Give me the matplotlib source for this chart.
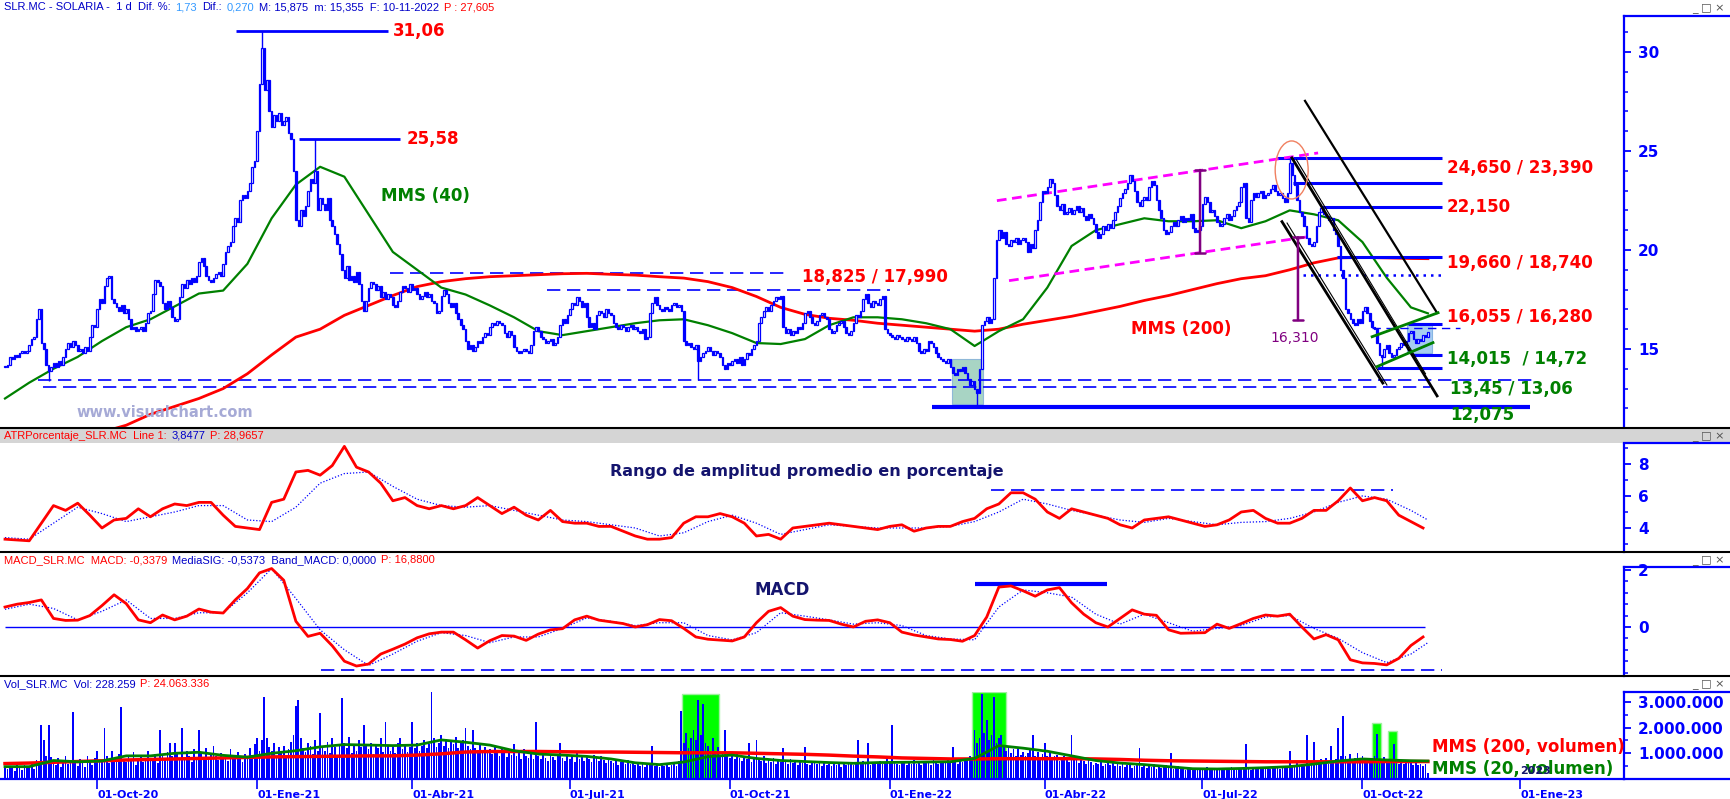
import numpy as np
import pandas as pd
import matplotlib
matplotlib.use("Agg")
import matplotlib.pyplot as plt
from matplotlib.patches import Rectangle, Ellipse
from matplotlib.lines import Line2D
from matplotlib.ticker import MultipleLocator

plt.rcParams['font.family'] = ['DejaVu Sans']

# ---------------------------------------------------------------- data
start_date = "2020-08-10"

closes = [
    14.1,14.2,14.6,14.5,14.7,14.6,14.8,14.9,14.8,14.9,
    15.2,15.5,15.6,16.5,17.0,15.3,15.0,14.2,13.9,14.1,
    14.3,14.1,14.4,14.2,14.6,15.0,15.3,15.1,15.4,15.2,
    14.9,15.0,14.8,15.1,14.9,15.6,16.2,16.1,17.0,17.5,
    17.3,18.2,18.6,18.7,17.5,17.3,17.1,16.9,17.2,16.8,
    17.0,16.5,16.0,16.1,15.9,16.0,16.1,15.9,16.3,16.8,
    16.9,17.8,18.5,18.4,18.2,17.3,17.0,17.4,17.1,16.6,
    16.4,16.5,17.6,18.3,18.1,18.5,18.3,18.6,18.4,18.7,
    19.4,19.6,19.2,18.7,18.5,18.4,18.6,18.8,18.9,18.7,
    19.3,19.9,20.2,20.4,21.2,21.6,21.4,22.5,22.8,22.6,
    23.0,23.4,24.2,24.5,26.0,28.4,30.2,28.1,28.6,27.0,
    26.2,26.8,26.5,26.9,26.3,26.5,26.7,25.9,25.6,24.0,
    21.5,21.2,22.0,21.7,22.2,23.0,23.6,23.4,24.0,22.0,
    22.6,22.3,22.0,22.6,21.5,21.2,20.8,20.3,19.8,19.0,
    18.6,19.2,18.5,18.7,18.4,18.9,18.3,17.4,16.9,17.4,
    18.1,18.4,18.3,18.0,18.2,17.6,17.9,17.5,17.8,17.6,
    17.2,17.1,17.4,17.9,18.2,18.1,17.9,18.3,18.0,18.1,
    17.8,17.5,17.7,17.9,17.6,17.8,17.4,17.3,16.8,16.9,
    17.7,18.0,17.8,17.3,17.1,17.3,16.8,16.5,16.2,16.0,
    15.4,15.0,15.2,14.9,15.1,15.4,15.3,15.6,15.8,15.7,
    16.1,16.3,16.2,16.4,16.3,16.2,15.8,15.6,15.9,15.7,
    15.1,14.9,14.8,14.9,15.0,14.9,14.8,15.2,15.9,16.1,
    15.9,15.6,15.5,15.3,15.4,15.5,15.2,15.3,15.6,16.2,
    16.5,16.3,16.7,17.0,17.3,17.2,17.6,17.4,17.1,17.3,
    16.6,16.1,16.3,16.0,16.7,16.9,16.8,16.6,17.0,16.8,
    16.7,16.3,16.1,16.0,16.2,16.1,15.9,16.1,16.2,16.0,
    16.1,15.9,15.8,16.0,15.5,15.6,16.8,17.3,17.6,17.2,
    17.0,16.9,17.1,17.0,16.9,17.2,17.3,17.1,17.2,16.9,
    15.4,15.2,15.3,15.1,15.0,15.2,14.4,14.6,14.8,14.9,
    15.1,14.9,14.7,14.9,14.8,14.6,14.2,14.0,14.3,14.2,
    14.4,14.5,14.3,14.6,14.2,14.5,14.8,14.7,15.0,15.2,
    15.4,16.3,16.6,16.9,17.1,16.9,17.2,17.4,17.6,17.5,
    17.7,16.1,15.8,16.0,15.7,15.9,15.8,16.1,16.0,16.3,
    16.8,16.9,16.6,16.3,16.2,16.4,16.7,16.8,16.6,16.5,
    16.0,15.8,15.9,16.2,16.3,16.4,16.1,15.8,15.7,15.9,
    16.3,16.7,16.6,16.9,17.5,17.8,17.3,17.1,17.4,17.3,
    17.2,17.5,17.7,16.0,15.8,15.7,15.6,15.5,15.7,15.6,
    15.5,15.4,15.6,15.5,15.4,15.6,15.3,14.9,14.8,15.0,
    14.9,15.4,15.3,15.1,14.8,14.6,14.5,14.4,14.3,14.5,
    14.1,13.8,13.7,14.0,13.9,14.1,13.8,13.5,13.2,13.4,
    13.0,12.8,14.0,16.2,16.4,16.6,16.3,16.5,18.6,20.5,
    21.0,20.6,20.9,20.3,20.2,20.5,20.4,20.6,20.3,20.5,
    20.6,20.4,19.9,20.3,20.1,21.0,21.5,22.4,23.0,22.9,
    23.2,23.6,23.4,22.8,22.2,22.0,22.3,21.8,21.9,22.1,
    21.8,22.0,22.2,21.9,22.1,21.7,21.5,21.8,21.6,21.3,
    20.9,20.6,20.8,21.2,21.0,21.3,21.1,21.5,21.9,22.2,
    22.6,22.9,23.1,23.4,23.8,23.5,23.0,22.4,22.2,22.5,
    22.7,22.5,23.2,23.5,23.3,22.5,22.0,21.6,21.0,20.8,
    20.9,21.2,21.4,21.2,21.5,21.7,21.4,21.6,21.5,21.8,
    21.1,20.9,21.0,21.2,22.3,22.7,22.4,21.9,22.0,21.7,
    21.4,21.2,21.3,21.6,21.8,21.5,21.7,22.0,22.2,22.4,
    23.2,23.4,21.6,21.4,22.5,22.9,22.7,22.9,23.0,22.6,
    22.8,22.9,23.1,23.3,23.0,22.8,22.9,22.6,22.4,22.9,
    24.4,23.8,23.3,22.5,21.9,21.7,21.2,20.6,20.3,20.2,
    20.4,21.2,21.9,22.1,21.8,21.7,21.5,21.6,21.0,20.8,
    20.2,19.0,18.6,17.0,16.8,16.5,16.3,16.2,16.5,16.3,
    16.9,17.1,16.8,16.4,16.1,16.0,15.3,14.7,14.6,15.0,
    15.2,14.8,14.6,14.7,15.0,15.1,15.3,15.2,15.4,15.8,
    15.9,15.5,15.3,15.5,15.4,15.7,15.6,15.87,
]

# daily volume, thousands of shares
volume_k = [
    420,380,510,450,300,620,480,350,560,410,
    470,600,380,720,650,2100,1500,900,2100,850,
    700,560,820,480,650,900,580,740,2600,620,
    520,760,640,480,900,700,560,820,1100,680,
    750,2000,900,640,1100,820,700,960,2800,780,
    650,900,720,1050,560,800,940,680,760,1100,
    820,700,960,640,1900,880,760,1050,1400,900,
    1400,980,820,2000,760,1100,900,680,1150,860,
    1900,1000,840,1200,760,950,1300,880,720,1000,
    820,940,700,1150,860,760,1050,900,680,980,
    880,1200,950,1350,1600,1100,1500,3200,1600,1250,
    1100,1400,900,1250,1000,1300,850,1150,1450,1700,
    2850,3070,1600,1200,1050,1400,1300,980,1500,1100,
    2550,1300,1100,1450,1000,1600,1250,900,1350,3150,
    1400,1200,1650,1000,1350,1100,1500,1250,2100,1300,
    1150,1400,980,1300,1200,1600,1050,2200,1300,1100,
    1250,1000,1400,1600,1150,1300,1050,1250,2200,1200,
    1400,1100,1300,1500,1200,1350,3400,1600,1250,1400,
    1700,1300,1550,1200,1450,1350,1650,1200,1400,1500,
    2000,1300,1150,1900,1200,1050,1350,1100,1250,1000,
    1150,980,1300,1050,900,1200,1000,850,1100,950,
    1350,880,1000,760,1150,900,820,1050,780,2200,
    900,760,1050,820,700,950,860,740,900,1400,
    820,700,960,780,880,650,1000,760,840,700,
    900,760,680,950,820,700,880,740,640,800,
    700,620,780,560,680,740,600,720,580,640,
    560,680,520,620,480,600,540,1300,520,600,
    480,560,500,620,460,540,600,500,700,2650,
    1400,1800,1200,1600,1900,1500,3070,1700,2900,1400,
    1300,1000,1600,1100,1250,900,1050,1900,950,800,
    900,760,1000,820,700,880,760,1400,680,780,
    1500,820,700,900,640,760,680,820,600,720,
    660,1200,700,580,760,640,700,560,680,620,
    1250,600,540,700,620,580,660,520,640,560,
    600,520,680,560,620,480,640,540,580,620,
    560,640,1500,580,700,620,1400,560,680,600,
    640,700,580,660,760,620,2100,680,600,560,
    620,700,560,640,580,720,600,660,540,700,
    620,680,560,760,640,580,700,620,680,740,
    640,1250,700,600,760,680,820,720,900,780,
    1900,1400,1600,3300,1800,2300,1500,1700,3200,1400,
    1600,1700,1300,1100,1250,1000,1150,900,1200,950,
    1050,880,1000,1200,1700,900,1050,820,980,1400,
    900,1000,760,880,940,700,820,900,760,680,
    1700,720,800,640,760,700,600,740,680,560,
    640,580,700,520,600,660,540,620,500,580,
    520,600,480,560,620,440,500,580,1200,460,
    540,420,500,460,580,400,520,440,480,560,
    420,1000,380,460,520,400,440,360,480,420,
    380,440,360,420,400,340,460,380,420,360,
    400,360,440,380,420,340,460,400,360,420,
    380,440,1350,400,360,480,420,380,440,400,
    460,420,380,480,440,520,400,460,500,440,
    1100,560,480,620,540,500,600,1700,520,640,
    1450,700,580,760,640,820,600,1300,700,760,
    2000,900,2450,880,760,960,700,820,1000,740,
    880,760,640,820,700,900,1750,760,680,840,
    720,640,760,1350,680,600,720,580,640,700,
    620,560,680,540,600,520,580,228,
]

# moving averages sampled every 10 sessions (+ last session)
ma40 = [12.5,13.3,14.0,14.6,15.4,16.1,16.5,17.15,17.8,17.95,
        19.3,21.6,23.3,24.2,23.7,21.8,19.9,19.0,18.1,17.75,
        17.2,16.6,15.9,15.7,15.9,16.1,16.3,16.45,16.5,16.2,
        15.8,15.3,15.25,15.5,16.2,16.6,16.6,16.5,16.3,16.0,
        15.15,15.9,16.5,18.1,20.2,21.0,21.3,21.6,21.45,21.45,
        21.5,21.1,21.45,22.0,21.8,21.5,20.4,18.6,17.1,16.8]
ma200 = [np.nan,np.nan,np.nan,np.nan,10.8,11.15,11.7,12.1,12.5,13.0,
         13.75,14.7,15.6,16.0,16.7,17.2,17.7,18.15,18.4,18.55,
         18.65,18.7,18.75,18.8,18.82,18.77,18.73,18.65,18.58,18.4,
         18.1,17.65,17.1,16.75,16.55,16.45,16.3,16.2,16.1,16.0,
         15.9,16.0,16.25,16.45,16.65,16.9,17.15,17.45,17.7,18.0,
         18.3,18.55,18.7,19.0,19.35,19.6,19.62,19.6,19.57,19.56]

# ATR % and MACD sampled every 5 sessions
atr_pct = [3.3,3.25,3.2,4.3,5.4,5.1,5.55,4.8,4.0,4.5,
           4.6,5.2,4.7,5.2,5.5,5.4,5.6,5.6,4.8,4.1,
           4.0,3.9,5.6,5.8,7.5,7.6,7.3,7.9,9.1,7.8,
           7.5,6.8,5.7,5.9,5.4,5.2,5.4,5.2,5.4,5.9,
           5.4,4.9,5.3,4.8,4.5,5.1,4.4,4.3,4.3,4.1,
           4.1,3.8,3.5,3.3,3.3,3.4,4.3,4.7,4.7,4.9,
           4.7,4.3,3.5,3.6,3.3,4.0,4.1,4.2,4.3,4.2,
           4.1,4.0,3.9,4.1,4.2,3.8,4.0,4.1,4.1,4.4,
           4.6,5.2,5.5,6.2,6.2,5.8,5.0,4.6,5.2,5.0,
           4.8,4.6,4.2,4.0,4.5,4.6,4.7,4.5,4.3,4.1,
           4.2,4.5,5.0,5.1,4.6,4.3,4.3,4.6,5.1,5.1,
           5.7,6.5,5.7,5.9,5.7,4.8,4.4,4.0]
macd = [0.70,0.80,0.86,0.95,0.30,0.23,0.24,0.40,0.75,1.13,
        0.82,0.25,0.15,0.42,0.25,0.38,0.63,0.52,0.49,0.95,
        1.35,1.90,2.05,1.64,0.20,-0.33,-0.22,-0.66,-1.20,-1.37,
        -1.30,-0.95,-0.78,-0.60,-0.38,-0.24,-0.18,-0.18,-0.45,-0.74,
        -0.48,-0.30,-0.32,-0.47,-0.25,-0.10,-0.06,0.25,0.38,0.24,
        0.18,0.12,0.00,0.08,0.26,0.22,-0.05,-0.35,-0.43,-0.46,
        -0.49,-0.35,0.15,0.55,0.68,0.38,0.26,0.24,0.23,0.10,
        0.00,0.20,0.25,0.15,-0.18,-0.28,-0.35,-0.42,-0.44,-0.50,
        -0.30,0.35,1.40,1.44,1.27,1.08,1.30,1.38,0.85,0.45,
        0.15,0.00,0.30,0.60,0.45,0.41,-0.10,-0.22,-0.21,-0.20,
        0.10,-0.05,0.12,0.30,0.42,0.38,0.45,0.00,-0.42,-0.27,
        -0.45,-1.15,-1.26,-1.28,-1.33,-1.10,-0.65,-0.35]

# signal lines sampled every 10 sessions (+ last session)
atr_signal = [3.4,3.3,4.3,5.3,4.9,4.4,4.7,5.0,5.4,5.4,
              4.5,4.4,5.3,6.8,7.4,7.5,6.6,5.8,5.4,5.3,
              5.4,5.1,4.8,4.5,4.4,4.2,4.0,3.5,3.7,4.4,
              4.8,4.3,3.6,3.9,4.2,4.1,4.0,4.0,4.0,4.1,
              4.4,5.0,5.8,5.5,5.1,4.8,4.5,4.35,4.6,4.4,
              4.2,4.35,4.4,4.6,5.0,5.6,6.0,5.8,5.1,4.5]
macd_signal = [0.62,0.80,0.65,0.25,0.55,0.95,0.30,0.30,0.50,0.50,
               1.20,2.05,1.00,-0.10,-0.80,-1.35,-0.95,-0.50,-0.20,-0.30,
               -0.55,-0.35,-0.35,-0.05,0.32,0.20,0.05,0.15,0.15,-0.30,
               -0.45,-0.20,0.50,0.38,0.25,0.10,0.15,0.05,-0.30,-0.42,
               -0.45,0.70,1.30,1.20,1.05,0.45,0.10,0.45,0.15,-0.15,
               -0.05,0.05,0.35,0.40,-0.05,-0.40,-0.90,-1.25,-0.95,-0.55]
vol_ma200_m = [0.60,0.62,0.65,0.68,0.71,0.74,0.76,0.78,0.80,0.82,
               0.84,0.86,0.87,0.88,0.89,0.90,0.90,0.93,0.98,1.05,
               1.07,1.07,1.07,1.06,1.05,1.05,1.04,1.03,1.02,1.02,
               1.02,1.00,0.98,0.96,0.93,0.89,0.86,0.82,0.80,0.78,
               0.78,0.79,0.79,0.79,0.79,0.78,0.76,0.73,0.71,0.70,
               0.69,0.68,0.67,0.67,0.67,0.67,0.67,0.68,0.68,0.68]
vol_ma20_m = [0.48,0.48,0.72,0.67,0.70,0.90,0.90,1.00,1.04,0.92,
              0.85,1.00,1.10,1.25,1.34,1.32,1.30,1.32,1.52,1.43,
              1.32,1.10,0.97,0.93,0.88,0.78,0.63,0.56,0.66,0.87,
              0.93,0.80,0.72,0.68,0.64,0.61,0.64,0.65,0.66,0.67,
              0.80,1.30,1.20,1.08,0.90,0.72,0.62,0.56,0.48,0.40,
              0.39,0.41,0.44,0.48,0.58,0.70,0.78,0.74,0.71,0.70]

# notable wick extremes (session index, price)
wick_high_bars = [106, 128, 530]
wick_high_vals = [31.06, 25.58, 24.65]
wick_low_bars = [18, 286, 401, 568]
wick_low_vals = [13.40, 13.45, 12.075, 14.015]

month_es = {1: "Ene", 4: "Abr", 7: "Jul", 10: "Oct"}

# ---------------------------------------------------------------- layout helpers
W, H = 1730, 799
fig = plt.figure(figsize=(W / 100, H / 100), dpi=100)
BLUE = "#0000ff"
RED = "#ff0000"
GREEN = "#008000"
NAVY = "#14146e"
PURPLE = "#800080"
AX_R = 1624

def fy(y):
    return 1 - y / H

def add_ax(top, bottom):
    return fig.add_axes([0, fy(bottom), AX_R / W, (bottom - top) / H])

ax_p = add_ax(15.7, 428)
ax_a = add_ax(443, 552)
ax_m = add_ax(567, 676)
ax_v = add_ax(692, 779)

n = len(closes)
X0, X1 = -2.063, 667.9
xi = np.arange(n)
x5 = np.arange(len(atr_pct)) * 5
x10 = np.r_[np.arange(len(ma40) - 1) * 10, n - 1]

for ax in (ax_p, ax_a, ax_m, ax_v):
    ax.set_xlim(X0, X1)
    for s in ("left", "top", "bottom"):
        ax.spines[s].set_visible(False)
    ax.spines["right"].set_color(BLUE)
    ax.spines["right"].set_linewidth(1.6)
    ax.yaxis.tick_right()
    ax.tick_params(axis="y", which="major", direction="out", length=5, width=1.3,
                   color=BLUE, labelcolor=BLUE, labelsize=11, pad=5)
    ax.tick_params(axis="y", which="minor", direction="out", length=3, width=1.1, color=BLUE)
    ax.patch.set_alpha(0)

# ---------------------------------------------------------------- price panel
ax_p.set_ylim(11.01, 31.83)
ax_p.set_yticks([15, 20, 25, 30], ["15", "20", "25", "30"], fontweight="bold")
ax_p.yaxis.set_minor_locator(MultipleLocator(1))
ax_p.set_xticks([])

ax_p.add_patch(Rectangle((390.7, 12.22), 12.8, 2.27, facecolor="#a8d4c4", edgecolor="#8fb8d8",
                         lw=0.8, zorder=1))
ax_p.add_patch(Rectangle((578.4, 14.81), 10.3, 1.52, facecolor="#9cc8f0", edgecolor="#7fb0e0",
                         lw=0.8, zorder=1, alpha=0.9))

ax_p.plot(x10, ma200, color=RED, lw=2.0, zorder=3)
ax_p.plot(x10, ma40, color=GREEN, lw=1.6, zorder=3)

c = np.asarray(closes, float)
o = np.r_[c[0], c[:-1]]
up = c >= o
bot = np.minimum(o, c)
hgt = np.maximum(np.abs(c - o), 0.05)
ax_p.bar(xi[up], hgt[up], bottom=bot[up], width=0.66, facecolor="white",
         edgecolor=BLUE, linewidth=0.9, zorder=4)
ax_p.bar(xi[~up], hgt[~up], bottom=bot[~up], width=0.66, facecolor=BLUE,
         edgecolor=BLUE, linewidth=0.9, zorder=4)
for b, v in zip(wick_high_bars, wick_high_vals):
    ax_p.vlines(b, max(o[b], c[b]), v, color=BLUE, lw=1.0, zorder=4)
for b, v in zip(wick_low_bars, wick_low_vals):
    ax_p.vlines(b, v, min(o[b], c[b]), color=BLUE, lw=1.0, zorder=4)

dash = (0, (8, 4))
ax_p.hlines(31.06, 95.3, 158.0, color=BLUE, lw=2, zorder=3)
ax_p.hlines(25.58, 121.3, 163.0, color=BLUE, lw=2, zorder=3)
ax_p.hlines(18.825, 159, 324, color=BLUE, lw=1.2, linestyles=[dash], zorder=2)
ax_p.hlines(17.99, 223.6, 365.1, color=BLUE, lw=1.2, linestyles=[dash], zorder=2)
ax_p.hlines(13.45, 13.6, 630.4, color=BLUE, lw=1.2, linestyles=[dash], zorder=2)
ax_p.hlines(13.06, 15.7, 587.9, color=BLUE, lw=1.2, linestyles=[dash], zorder=2)
ax_p.hlines(12.075, 382.4, 629.1, color=BLUE, lw=3, zorder=3)

right_levels = [(24.65, 524.8), (23.39, 531.4), (22.15, 543.3), (19.66, 549.5),
                (16.28, 578.8), (14.72, 580.4), (14.015, 566.0)]
for v, x0 in right_levels:
    ax_p.hlines(v, x0, 592.8, color=BLUE, lw=2.2, zorder=3)
ax_p.hlines(18.74, 535.5, 592.8, color=BLUE, lw=1.8, linestyles=[(0, (1, 2))], zorder=3)
ax_p.hlines(16.055, 564.0, 600.3, color=BLUE, lw=1.0, linestyles=[(0, (6, 4))], zorder=3)

# magenta channel
ax_p.plot([409.2, 541.7], [22.49, 24.9], color="#ff00ff", lw=2, ls=(0, (3.5, 2)), zorder=3)
ax_p.plot([414.2, 537.1], [18.45, 20.66], color="#ff00ff", lw=2, ls=(0, (3.5, 2)), zorder=3)
# black down-channel
ax_p.plot([536.3, 590.8], [27.53, 16.82], color="black", lw=1.6, zorder=5)
ax_p.plot([530.9, 590.8], [24.65, 12.63], color="black", lw=2.0, zorder=5)
ax_p.plot([532.8, 586.0], [24.55, 13.75], color="black", lw=0.8, zorder=5)
ax_p.plot([526.8, 568.4], [21.43, 13.28], color="black", lw=2.0, zorder=5)
ax_p.plot([528.9, 570.1], [21.36, 13.18], color="black", lw=0.8, zorder=5)
# green wedge
ax_p.plot([564.0, 591.2], [15.62, 16.83], color=GREEN, lw=2, zorder=5)
ax_p.plot([566.0, 589.1], [14.11, 15.32], color=GREEN, lw=2, zorder=5)
# purple measures
for xb, y1, y2 in [(493, 24.04, 19.85), (533.4, 20.64, 16.46)]:
    ax_p.annotate("", xy=(xb, y2), xytext=(xb, y1),
                  arrowprops=dict(arrowstyle="|-|,widthA=0.35,widthB=0.35", color=PURPLE, lw=1.8,
                                  shrinkA=0, shrinkB=0), zorder=5)
ax_p.add_patch(Ellipse((530.8, 24.04), 13.6, 2.93, fill=False, edgecolor="#f08060", lw=1, zorder=5))

bold12 = dict(fontsize=12, fontweight="bold", va="center", ha="left", zorder=6, clip_on=False)
ax_p.text(160.1, 31.06, "31,06", color=RED, **bold12)
ax_p.text(165.8, 25.58, "25,58", color=RED, **bold12)
ax_p.text(155.1, 22.73, "MMS (40)", color=GREEN, **bold12)
ax_p.text(328.8, 18.64, "18,825 / 17,990", color=RED, **bold12)
ax_p.text(594.9, 24.14, "24,650 / 23,390", color=RED, **bold12)
ax_p.text(594.9, 22.17, "22,150", color=RED, **bold12)
ax_p.text(594.9, 19.34, "19,660 / 18,740", color=RED, **bold12)
ax_p.text(594.9, 16.62, "16,055 / 16,280", color=RED, **bold12)
ax_p.text(594.9, 14.49, "14,015  / 14,72", color=GREEN, **bold12)
ax_p.text(596.1, 12.98, "13,45 / 13,06", color=GREEN, **bold12)
ax_p.text(596.1, 11.67, "12,075", color=GREEN, **bold12)
ax_p.text(464.5, 16.01, "MMS (200)", color=RED, **bold12)
ax_p.text(521.9, 15.56, "16,310", color=PURPLE, fontsize=10, va="center", ha="left", zorder=6)
fig.text(76 / W, fy(412), "www.visualchart.com", color="#a6aad6", fontsize=10.5,
         fontweight="bold", va="center", ha="left")

# ---------------------------------------------------------------- ATR panel
ax_a.set_ylim(2.5, 9.31)
ax_a.set_yticks([4, 6, 8], ["4", "6", "8"], fontweight="bold")
ax_a.yaxis.set_minor_locator(MultipleLocator(1))
ax_a.set_xticks([])
ax_a.plot(x10, atr_signal, color=BLUE, lw=0.9, ls=(0, (1, 1.5)), zorder=3)
ax_a.plot(x5, atr_pct, color=RED, lw=2.0, zorder=4)
ax_a.hlines(6.375, 406.8, 572.6, color=BLUE, lw=1.2, linestyles=[dash], zorder=2)
ax_a.text(249.6, 7.5, "Rango de amplitud promedio en porcentaje", color=NAVY,
          fontsize=11.5, fontweight="bold", va="center", ha="left")

# ---------------------------------------------------------------- MACD panel
ax_m.set_ylim(-1.72, 2.105)
ax_m.set_yticks([0, 2], ["0", "2"], fontweight="bold")
ax_m.yaxis.set_minor_locator(MultipleLocator(0.4))
ax_m.set_xticks([])
ax_m.hlines(0, 0, 585.8, color=BLUE, lw=1.0, zorder=2)
ax_m.hlines(-1.52, 130.4, 592.8, color=BLUE, lw=1.2, linestyles=[dash], zorder=2)
ax_m.hlines(1.51, 400.2, 454.6, color=BLUE, lw=3, zorder=2)
ax_m.plot(x10, macd_signal, color=BLUE, lw=0.9, ls=(0, (1, 1.5)), zorder=3)
ax_m.plot(x5, macd, color=RED, lw=2.0, zorder=4)
ax_m.text(309.4, 1.30, "MACD", color=NAVY, fontsize=12, fontweight="bold", va="center", ha="left")

# ---------------------------------------------------------------- Volume panel
ax_v.set_ylim(0, 3.385e6)
ax_v.set_yticks([1e6, 2e6, 3e6], ["1.000.000", "2.000.000", "3.000.000"], fontweight="bold")
ax_v.yaxis.set_minor_locator(MultipleLocator(0.5e6))
green_boxes = [(279.3, 294.6, 3.31e6), (399.0, 413.0, 3.385e6), (564.0, 567.7, 2.18e6),
               (570.5, 574.3, 1.87e6)]
for a, b, top in green_boxes:
    ax_v.add_patch(Rectangle((a, 0), b - a, top, facecolor="#00ff00", edgecolor="#a0f0a0",
                             lw=1, zorder=1))
vk = np.asarray(volume_k, float)
ax_v.bar(np.arange(len(vk)), vk * 1000, width=0.72, color=BLUE, lw=0, zorder=2)
ax_v.plot(x10, np.asarray(vol_ma200_m) * 1e6, color=RED, lw=2.5, zorder=3)
ax_v.plot(x10, np.asarray(vol_ma20_m) * 1e6, color=GREEN, lw=2.0, zorder=3)
ax_v.text(588.5, 1.245e6, "MMS (200, volumen)", color=RED, **bold12)
ax_v.text(588.5, 0.39e6, "MMS (20, volumen)", color=GREEN, **bold12)
ax_v.text(625.0, 0.31e6, "2023", color=NAVY, fontsize=8, fontweight="bold", va="center",
          ha="left", zorder=7)
ax_v.spines["bottom"].set_visible(True)
ax_v.spines["bottom"].set_color(BLUE)
ax_v.spines["bottom"].set_linewidth(1.6)

all_days = pd.bdate_range(start_date, periods=n + 150)
quarters = pd.date_range("2020-10-01", "2023-01-01", freq="QS")
qpos = [int(np.searchsorted(all_days.values, q.to_datetime64())) for q in quarters]
qlab = [f"01-{month_es[q.month]}-{q.strftime('%y')}" for q in quarters]
ax_v.set_xticks(qpos, qlab, ha="left", fontsize=8, fontweight="bold", color=BLUE)
ax_v.tick_params(axis="x", direction="out", length=7.5, width=1.2, color=BLUE, pad=0.5)

# ---------------------------------------------------------------- frame decorations
fig.patches.append(Rectangle((0, fy(443)), 1, 15 / H, transform=fig.transFigure,
                             facecolor="#d5d5d5", edgecolor="none", zorder=0))
for y in (428, 552, 676):
    fig.add_artist(Line2D([0, 1], [fy(y), fy(y)], color="black", lw=1.5))
for y in (15.7, 443, 567, 692, 779):
    fig.add_artist(Line2D([AX_R / W, 1], [fy(y), fy(y)], color=BLUE, lw=1.6))

# header lines: coloured segments laid out one after another
HF = dict(fontsize=8.0, family="Liberation Sans", va="center", ha="left")
DB, LB = "#0000c8", "#3399ff"
headers = [
    (7.5, [("SLR.MC - SOLARIA -  1 d  Dif. %:", DB), ("1,73", LB), ("Dif.:", DB),
           ("0,270", LB), ("M: 15,875  m: 15,355  F: 10-11-2022", DB), ("P : 27,605", RED)]),
    (436, [("ATRPorcentaje_SLR.MC  Line 1:", RED), ("3,8477", DB), ("P: 28,9657", RED)]),
    (560, [("MACD_SLR.MC  MACD: -0,3379", RED),
           ("MediaSIG: -0,5373  Band_MACD: 0,0000", DB), ("P: 16,8800", RED)]),
    (684, [("Vol_SLR.MC  Vol: 228.259", DB), ("P: 24.063.336", RED)]),
]
renderer = fig.canvas.get_renderer()
for y, segs in headers:
    xpix = 3.6
    for s, col in segs:
        t = fig.text(xpix / W, fy(y), s, color=col, **HF)
        bb = t.get_window_extent(renderer=renderer)
        xpix = bb.x1 + 5
for y in (8, 436, 560, 684):
    fig.text(1692 / W, fy(y), "_ \u25a1 \u00d7", color="#505050", fontsize=8, va="center", ha="left")

fig.savefig("out.png", dpi=100)
